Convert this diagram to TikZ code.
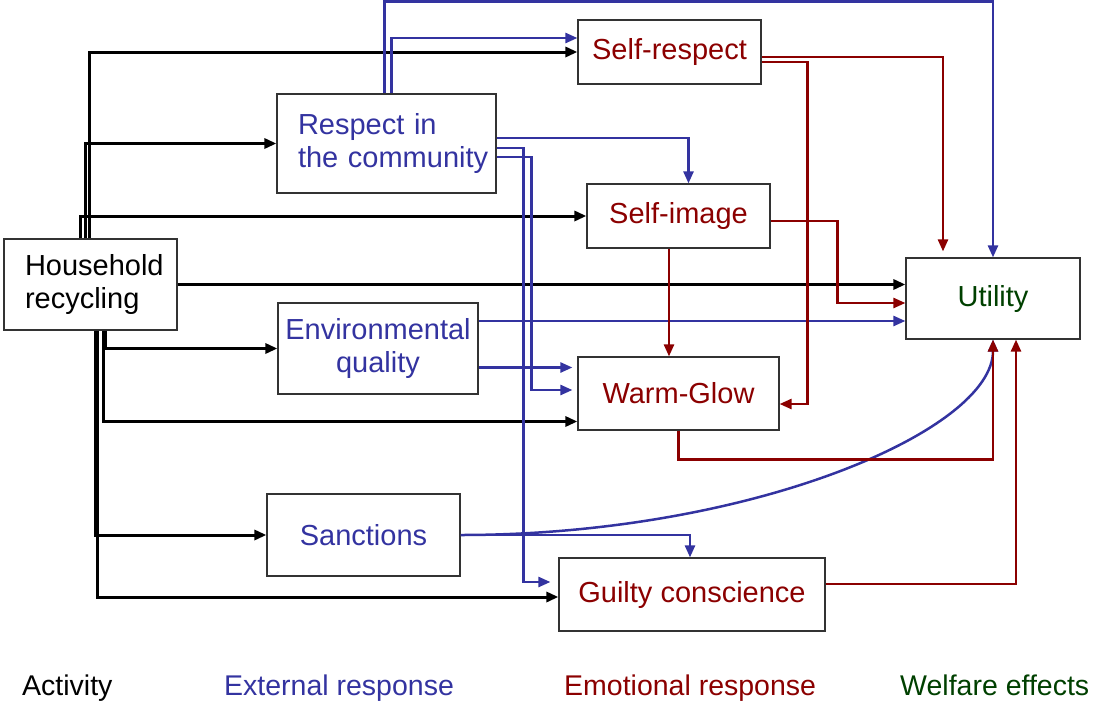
\documentclass[tikz,border=0pt]{standalone}
\usepackage{fontspec}
\setmainfont{Liberation Sans}
\usetikzlibrary{arrows.meta}
\definecolor{extblue}{RGB}{51,51,160}
\definecolor{emored}{RGB}{139,0,0}
\definecolor{welgreen}{RGB}{0,64,0}

\begin{document}
\begin{tikzpicture}[x=1pt, y=-1pt,
    box/.style={draw=black!80, line width=1.2, inner sep=0, align=center, font=\fontsize{29}{33}\selectfont},
    legend/.style={inner sep=0, anchor=base west, font=\fontsize{28.5}{33}\selectfont},
    blk/.style={black, line width=3, -{Triangle[length=12,width=10]}},
    ext/.style={extblue, line width=2.5, -{Triangle[length=12,width=10]}},
    emo/.style={emored, line width=2.5, -{Triangle[length=12,width=10]}}]
  \useasboundingbox (0,0) rectangle (1096,702);

  % boxes
  \node[box, text width=131, inner xsep=21, minimum height=91, align=left] (house) at (90.5,284.5) {Household\\recycling};
  \node[box, text width=177, inner xsep=21, minimum height=99, align=left, text=extblue] (respect) at (386.5,143.5) {Respect in\\\mbox{the community}};
  \node[box, minimum width=183, minimum height=64, text=emored] (selfresp) at (669.5,52) {Self-respect};
  \node[box, minimum width=183, minimum height=64, text=emored] (selfimg) at (678.5,216) {Self-image};
  \node[box, minimum width=200, minimum height=91, text=extblue] (env) at (378,348.5) {Environmental\\quality};
  \node[box, minimum width=201, minimum height=73, text=emored] (warm) at (678.5,393.5) {Warm-Glow};
  \node[box, minimum width=174, minimum height=81, text=welgreen] (util) at (993,298.5) {Utility};
  \node[box, minimum width=193, minimum height=82, text=extblue] (sanc) at (363.5,535) {Sanctions};
  \node[box, minimum width=266, minimum height=73, text=emored] (guilty) at (692,594.5) {Guilty conscience};

  % activity
  \draw[blk] ([xshift=86]house.north west) |- (selfresp.west);
  \draw[blk] ([xshift=82]house.north west) |- (respect.west);
  \draw[blk] ([xshift=77]house.north west) |- (selfimg.west);
  \draw[blk] (house.east) -- (house.east -| util.west);
  \draw[blk] ([xshift=102]house.south west) |- (env.west);
  \draw[blk] ([xshift=100]house.south west) |- ([yshift=-28]warm.west);
  \draw[blk] ([xshift=92]house.south west) |- (sanc.west);
  \draw[blk] ([xshift=94]house.south west) |- ([yshift=-2.5]guilty.west);

  % external response
  \coordinate (topline) at (0,1.5);
  \draw[ext] ([xshift=108]respect.north west) |- (topline -| util.north) -- (util.north);
  \draw[ext] ([xshift=115]respect.north west) |- ([yshift=14]selfresp.west);
  \draw[ext] ([yshift=5.5]respect.east) -| ([xshift=10]selfimg.north);
  \draw[ext] ([yshift=-4.5]respect.east) -| ([xshift=-35,yshift=12.5]guilty.west) -- ([xshift=-8,yshift=12.5]guilty.west);
  \draw[ext] ([yshift=-13.5]respect.east) -| ([xshift=-46,yshift=3.5]warm.west) -- ([xshift=-5,yshift=3.5]warm.west);
  \draw[ext] ([yshift=27.5]env.east) -- ([yshift=-22.5]util.west);
  \draw[ext] ([yshift=-19]env.east) -- ([xshift=-5,yshift=26]warm.west);
  \draw[ext] (sanc.east) -| ([xshift=-2]guilty.north);
  \draw[ext] (sanc.east) .. controls +(290,0) and +(0,91) .. (util.south);

  % emotional response
  \draw[emo] ([yshift=-5]selfresp.east) -| ([xshift=-50,yshift=6]util.north);
  \draw[emo] ([yshift=-10]selfresp.east) -| ([xshift=28,yshift=-10.5]warm.east) -- ([yshift=-10.5]warm.east);
  \draw[emo] ([yshift=-5]selfimg.east) -| ([xshift=-68,yshift=-4.5]util.west) -- ([yshift=-4.5]util.west);
  \draw[emo] ([xshift=-9.5]selfimg.south) -- ([xshift=-9.5]warm.north);
  \draw[emo] (warm.south) |- ([yshift=-120]util.south) -- (util.south);
  \draw[emo] ([yshift=10.5]guilty.east) -| ([xshift=23]util.south);

  % legend
  \node[legend] (act) at (22,695) {Activity};
  \node[legend, extblue] (extl) at (224,695) {External response};
  \node[legend, emored] (emol) at (564,695) {Emotional response};
  \node[legend, welgreen] (well) at (900,695) {Welfare effects};
\end{tikzpicture}
\end{document}
